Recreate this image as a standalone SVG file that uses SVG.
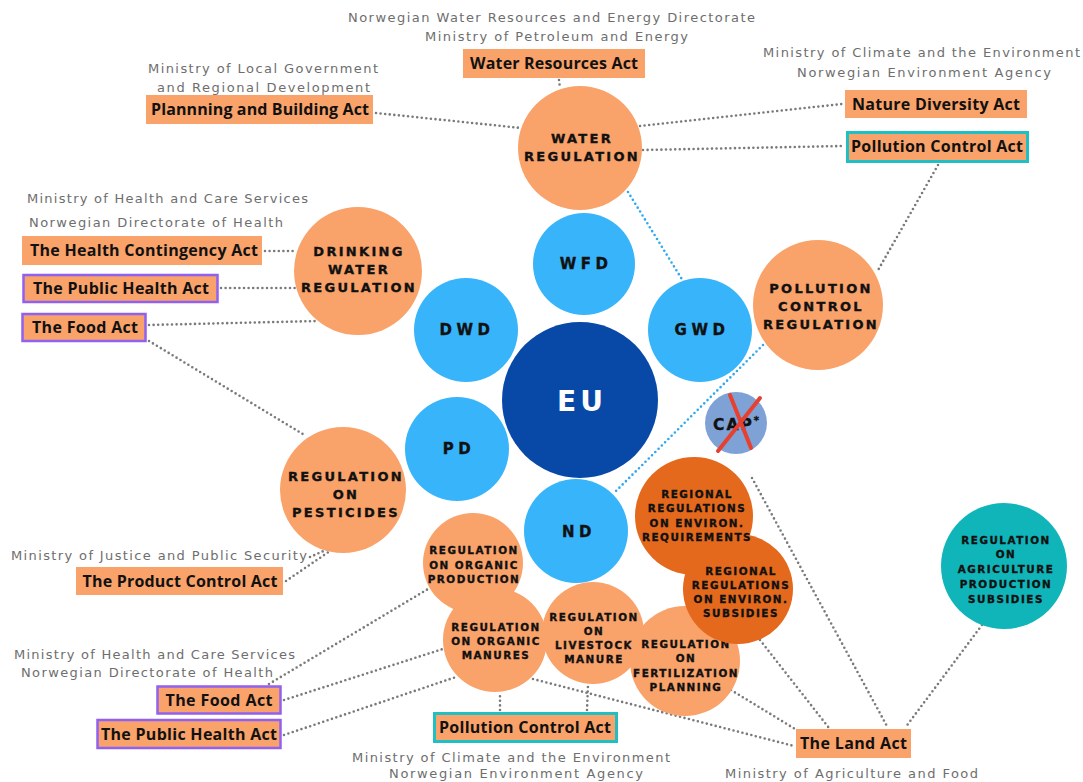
<svg xmlns="http://www.w3.org/2000/svg" width="1083" height="782" viewBox="0 0 1083 782">
  <style>
    .bg { fill: #ffffff; }
    .link { stroke: #7a7a7a; stroke-width: 2.6; stroke-linecap: round; stroke-dasharray: 0 4.6; fill: none; }
    .link-blue { stroke: #30a8f0; stroke-width: 2.6; stroke-linecap: round; stroke-dasharray: 0 4.6; fill: none; }
    .agency { font-family: "DejaVu Sans", "Noto Sans", sans-serif; font-size: 13px; fill: #6e6e6e; }
    .act-box { fill: #f9a26a; }
    .act-box.teal { stroke: #1fbfc4; stroke-width: 3; }
    .act-box.purple { stroke: #9060f0; stroke-width: 2.5; }
    .act { font-family: "Open Sans", "Noto Sans", sans-serif; font-weight: 700; font-size: 16px; fill: #111111; text-anchor: middle; }
    .c-orange { fill: #f9a26a; }
    .c-dark { fill: #e4691c; }
    .c-blue { fill: #38b4fb; }
    .c-eu { fill: #0849a8; }
    .c-teal { fill: #10b5ba; }
    .c-cap { fill: #7ea2d6; }
    .lbl { font-family: "DejaVu Sans", "Noto Sans", sans-serif; font-weight: 700; fill: #111111; stroke: #111111; stroke-width: 0.35; text-anchor: middle; }
    .lbl-l { font-size: 13px; letter-spacing: 2.3px; }
    .lbl-s { font-size: 10.4px; letter-spacing: 1.5px; }
    .lbl-m { font-size: 15px; letter-spacing: 4.5px; }
    .eu { font-family: "DejaVu Sans", "Noto Sans", sans-serif; font-weight: 700; font-size: 28px; letter-spacing: 4px; fill: #ffffff; text-anchor: middle; }
    .cross { stroke: #e8402f; stroke-width: 4; stroke-linecap: round; fill: none; }
  </style>

  <rect class="bg" x="0" y="0" width="1083" height="782"/>

  <!-- dotted links between acts, regulations and directives -->
  <g id="connectors">
    <line class="link" x1="559" y1="80" x2="560" y2="88"/>
    <line class="link" x1="376" y1="113" x2="521" y2="128"/>
    <line class="link" x1="640" y1="126" x2="842" y2="104"/>
    <line class="link" x1="643" y1="150" x2="843" y2="146"/>
    <line class="link" x1="938" y1="165" x2="877" y2="272"/>
    <line class="link" x1="265" y1="251" x2="295" y2="251"/>
    <line class="link" x1="221" y1="288" x2="296" y2="288"/>
    <line class="link" x1="149" y1="325" x2="318" y2="321"/>
    <line class="link" x1="149" y1="341" x2="306" y2="436"/>
    <line class="link" x1="310" y1="557" x2="328" y2="549"/>
    <line class="link" x1="286" y1="581" x2="330" y2="551"/>
    <line class="link" x1="269" y1="684" x2="428" y2="589"/>
    <line class="link" x1="284" y1="700" x2="446" y2="648"/>
    <line class="link" x1="284" y1="735" x2="456" y2="677"/>
    <line class="link" x1="500" y1="710" x2="500" y2="692"/>
    <line class="link" x1="587" y1="710" x2="588" y2="685"/>
    <line class="link" x1="533" y1="679" x2="794" y2="746"/>
    <line class="link" x1="731" y1="690" x2="800" y2="732"/>
    <line class="link" x1="760" y1="640" x2="829" y2="728"/>
    <line class="link" x1="752" y1="478" x2="888" y2="728"/>
    <line class="link" x1="982" y1="625" x2="905" y2="728"/>
    <line class="link-blue" x1="628" y1="192" x2="683" y2="281"/>
    <line class="link-blue" x1="763" y1="345" x2="615" y2="492"/>
  </g>

  <!-- EU directives -->
  <g id="eu">
    <circle class="c-eu" cx="580" cy="400" r="78"/>
    <text class="eu" x="582" y="411">EU</text>
  </g>
  <g id="wfd">
    <circle class="c-blue" cx="584" cy="264" r="51"/>
    <text class="lbl lbl-m" x="586" y="269">WFD</text>
  </g>
  <g id="dwd">
    <circle class="c-blue" cx="466" cy="330" r="52"/>
    <text class="lbl lbl-m" x="467" y="335">DWD</text>
  </g>
  <g id="gwd">
    <circle class="c-blue" cx="700" cy="330" r="52"/>
    <text class="lbl lbl-m" x="702" y="335">GWD</text>
  </g>
  <g id="pd">
    <circle class="c-blue" cx="457" cy="449" r="52"/>
    <text class="lbl lbl-m" x="459" y="454">PD</text>
  </g>

  <!-- national regulations -->
  <g id="water-regulation">
    <circle class="c-orange" cx="580" cy="148" r="62"/>
    <text class="lbl lbl-l" x="582" y="143">WATER</text>
    <text class="lbl lbl-l" x="582" y="161">REGULATION</text>
  </g>
  <g id="drinking-water-regulation">
    <circle class="c-orange" cx="358" cy="271" r="64"/>
    <text class="lbl lbl-l" x="359" y="256">DRINKING</text>
    <text class="lbl lbl-l" x="359" y="274">WATER</text>
    <text class="lbl lbl-l" x="359" y="292">REGULATION</text>
  </g>
  <g id="pollution-control-regulation">
    <circle class="c-orange" cx="818" cy="305" r="65"/>
    <text class="lbl lbl-l" x="821" y="293">POLLUTION</text>
    <text class="lbl lbl-l" x="821" y="311">CONTROL</text>
    <text class="lbl lbl-l" x="821" y="329">REGULATION</text>
  </g>
  <g id="regulation-pesticides">
    <circle class="c-orange" cx="343" cy="490" r="63"/>
    <text class="lbl lbl-l" x="346" y="481">REGULATION</text>
    <text class="lbl lbl-l" x="346" y="499">ON</text>
    <text class="lbl lbl-l" x="346" y="517">PESTICIDES</text>
  </g>
  <g id="regulation-organic-production">
    <circle class="c-orange" cx="473" cy="563" r="50"/>
    <text class="lbl lbl-s" x="474" y="554">REGULATION</text>
    <text class="lbl lbl-s" x="474" y="569">ON ORGANIC</text>
    <text class="lbl lbl-s" x="474" y="583">PRODUCTION</text>
  </g>
  <g id="regulation-organic-manures">
    <circle class="c-orange" cx="495" cy="640" r="52"/>
    <text class="lbl lbl-s" x="496" y="631">REGULATION</text>
    <text class="lbl lbl-s" x="496" y="645">ON ORGANIC</text>
    <text class="lbl lbl-s" x="496" y="659">MANURES</text>
  </g>
  <g id="regulation-livestock-manure">
    <circle class="c-orange" cx="593" cy="633" r="51"/>
    <text class="lbl lbl-s" x="594" y="621">REGULATION</text>
    <text class="lbl lbl-s" x="594" y="635">ON</text>
    <text class="lbl lbl-s" x="594" y="649">LIVESTOCK</text>
    <text class="lbl lbl-s" x="594" y="663">MANURE</text>
  </g>
  <g id="regulation-fertilization-planning">
    <circle class="c-orange" cx="685" cy="661" r="55"/>
    <text class="lbl lbl-s" x="686" y="648">REGULATION</text>
    <text class="lbl lbl-s" x="686" y="662">ON</text>
    <text class="lbl lbl-s" x="686" y="677">FERTILIZATION</text>
    <text class="lbl lbl-s" x="686" y="691">PLANNING</text>
  </g>
  <g id="nd">
    <circle class="c-blue" cx="576" cy="531" r="52"/>
    <text class="lbl lbl-m" x="579" y="537">ND</text>
  </g>
  <g id="regional-requirements">
    <circle class="c-dark" cx="694" cy="516" r="59"/>
  </g>
  <g id="regional-subsidies">
    <circle class="c-dark" cx="738" cy="589" r="55"/>
    <text class="lbl lbl-s" x="741" y="575">REGIONAL</text>
    <text class="lbl lbl-s" x="741" y="589">REGULATIONS</text>
    <text class="lbl lbl-s" x="741" y="603">ON ENVIRON.</text>
    <text class="lbl lbl-s" x="741" y="617">SUBSIDIES</text>
  </g>
  <g id="regional-requirements-label">
    <text class="lbl lbl-s" x="697" y="498">REGIONAL</text>
    <text class="lbl lbl-s" x="697" y="512">REGULATIONS</text>
    <text class="lbl lbl-s" x="697" y="527">ON ENVIRON.</text>
    <text class="lbl lbl-s" x="697" y="541">REQUIREMENTS</text>
  </g>
  <g id="regulation-agriculture-subsidies">
    <circle class="c-teal" cx="1004" cy="566" r="63"/>
    <text class="lbl lbl-s" x="1006" y="544">REGULATION</text>
    <text class="lbl lbl-s" x="1006" y="558">ON</text>
    <text class="lbl lbl-s" x="1006" y="573">AGRICULTURE</text>
    <text class="lbl lbl-s" x="1006" y="588">PRODUCTION</text>
    <text class="lbl lbl-s" x="1006" y="603">SUBSIDIES</text>
  </g>
  <g id="cap">
    <circle class="c-cap" cx="736" cy="423" r="31"/>
    <text class="lbl" x="737" y="430" font-size="15.5" letter-spacing="2">CAP<tspan font-size="10" dy="-6">*</tspan></text>
    <line class="cross" x1="730" y1="395" x2="751" y2="448"/>
    <line class="cross" x1="760" y1="398" x2="718" y2="451"/>
  </g>

  <!-- acts with their responsible bodies -->
  <g id="water-resources-act">
    <text class="agency" x="348" y="22" textLength="407" lengthAdjust="spacing">Norwegian Water Resources and Energy Directorate</text>
    <text class="agency" x="425" y="41" textLength="263" lengthAdjust="spacing">Ministry of Petroleum and Energy</text>
    <rect class="act-box" x="463" y="49" width="182" height="29"/>
    <text class="act" x="554" y="69" textLength="168" lengthAdjust="spacing">Water Resources Act</text>
  </g>
  <g id="planning-building-act">
    <text class="agency" x="148" y="73" textLength="230" lengthAdjust="spacing">Ministry of Local Government</text>
    <text class="agency" x="157" y="92" textLength="213" lengthAdjust="spacing">and Regional Development</text>
    <rect class="act-box" x="146" y="95" width="227" height="29"/>
    <text class="act" x="260" y="115" textLength="218" lengthAdjust="spacing">Plannning and Building Act</text>
  </g>
  <g id="nature-diversity-act">
    <text class="agency" x="763" y="57" textLength="317" lengthAdjust="spacing">Ministry of Climate and the Environment</text>
    <text class="agency" x="797" y="77" textLength="254" lengthAdjust="spacing">Norwegian Environment Agency</text>
    <rect class="act-box" x="845" y="90" width="182" height="28"/>
    <text class="act" x="936" y="110" textLength="168" lengthAdjust="spacing">Nature Diversity Act</text>
  </g>
  <g id="pollution-control-act-top">
    <rect class="act-box teal" x="847.5" y="132.5" width="180" height="29"/>
    <text class="act" x="937" y="152" textLength="172" lengthAdjust="spacing">Pollution Control Act</text>
  </g>
  <g id="health-contingency-act">
    <text class="agency" x="27" y="203" textLength="281" lengthAdjust="spacing">Ministry of Health and Care Services</text>
    <text class="agency" x="29" y="227" textLength="254" lengthAdjust="spacing">Norwegian Directorate of Health</text>
    <rect class="act-box" x="22" y="236" width="240" height="29"/>
    <text class="act" x="144" y="256" textLength="228" lengthAdjust="spacing">The Health Contingency Act</text>
  </g>
  <g id="public-health-act-top">
    <rect class="act-box purple" x="23.5" y="275" width="194" height="27"/>
    <text class="act" x="121" y="294" textLength="176" lengthAdjust="spacing">The Public Health Act</text>
  </g>
  <g id="food-act-top">
    <rect class="act-box purple" x="22.5" y="314" width="123" height="27"/>
    <text class="act" x="85" y="333" textLength="106" lengthAdjust="spacing">The Food Act</text>
  </g>
  <g id="product-control-act">
    <text class="agency" x="11" y="560" textLength="296" lengthAdjust="spacing">Ministry of Justice and Public Security</text>
    <rect class="act-box" x="76" y="567" width="207" height="28"/>
    <text class="act" x="180" y="587" textLength="195" lengthAdjust="spacing">The Product Control Act</text>
  </g>
  <g id="food-act-bottom">
    <text class="agency" x="14" y="659" textLength="281" lengthAdjust="spacing">Ministry of Health and Care Services</text>
    <text class="agency" x="21" y="677" textLength="252" lengthAdjust="spacing">Norwegian Directorate of Health</text>
    <rect class="act-box purple" x="157.5" y="686.5" width="123" height="27"/>
    <text class="act" x="219" y="706" textLength="107" lengthAdjust="spacing">The Food Act</text>
  </g>
  <g id="public-health-act-bottom">
    <rect class="act-box purple" x="97.5" y="720" width="183" height="28"/>
    <text class="act" x="189" y="740" textLength="176" lengthAdjust="spacing">The Public Health Act</text>
  </g>
  <g id="pollution-control-act-bottom">
    <rect class="act-box teal" x="434.5" y="713.5" width="182" height="28"/>
    <text class="act" x="525" y="733" textLength="172" lengthAdjust="spacing">Pollution Control Act</text>
    <text class="agency" x="352" y="762" textLength="318" lengthAdjust="spacing">Ministry of Climate and the Environment</text>
    <text class="agency" x="389" y="778" textLength="254" lengthAdjust="spacing">Norwegian Environment Agency</text>
  </g>
  <g id="land-act">
    <rect class="act-box" x="796" y="729" width="115" height="29"/>
    <text class="act" x="853.5" y="749" textLength="107" lengthAdjust="spacing">The Land Act</text>
    <text class="agency" x="725" y="778" textLength="253" lengthAdjust="spacing">Ministry of Agriculture and Food</text>
  </g>
</svg>
